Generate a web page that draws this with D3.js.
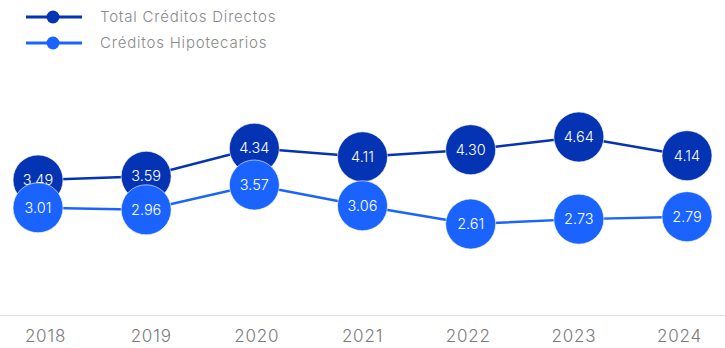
<!DOCTYPE html>
<html>
<head>
<meta charset="utf-8">
<script src="https://cdn.jsdelivr.net/npm/d3@7"></script>
<style>
  html, body { margin: 0; padding: 0; background: #fff; }
  svg { display: block; font-family: Inter, "Noto Sans", sans-serif; font-weight: 300; }
</style>
</head>
<body>
<svg id="chart" width="725" height="348"></svg>
<script>
const years = ["2018", "2019", "2020", "2021", "2022", "2023", "2024"];
const totalDirectos = [3.49, 3.59, 4.34, 4.11, 4.30, 4.64, 4.14];
const hipotecarios = [3.01, 2.96, 3.57, 3.06, 2.61, 2.73, 2.79];
const seriesNames = ["Total Créditos Directos", "Créditos Hipotecarios"];

const colors = ["#0434b4", "#1a63ff"];

const svg = d3.select("#chart");

// Marker positions and axis label positions
const xPoint = d3.scalePoint().domain(years).range([38, 687]);
const xAxisScale = d3.scalePoint().domain(years).range([45, 679]);

// Each series sits in its own vertical band
const yTotal = d3.scaleLinear().domain([3.49, 4.64]).range([180, 137]);
const yHipo = d3.scaleLinear().domain([2.61, 3.57]).range([224, 185]);

const series = [
  { name: seriesNames[0], values: totalDirectos, y: yTotal, color: colors[0] },
  { name: seriesNames[1], values: hipotecarios, y: yHipo, color: colors[1] }
];

// Baseline
svg.append("line")
  .attr("x1", 0).attr("x2", 725)
  .attr("y1", 315.5).attr("y2", 315.5)
  .attr("stroke", "#dedede").attr("stroke-width", 1.2);

// X axis labels
const xAxis = d3.axisBottom(xAxisScale).tickSize(0).tickPadding(0);
const gx = svg.append("g").attr("transform", "translate(0,330)").call(xAxis);
gx.select(".domain").remove();
gx.selectAll("text")
  .attr("font-size", 17)
  .attr("fill", "#7a7a7a")
  .attr("dy", "0.35em")
  .attr("y", 6)
  .attr("letter-spacing", 0.8)
  .style("font-family", "Inter, 'Noto Sans', sans-serif")
  .style("font-weight", 300);

// Lines first, then circles (hipotecarios drawn over total)
series.forEach(s => {
  const line = d3.line()
    .x((d, i) => xPoint(years[i]))
    .y(d => s.y(d));
  svg.append("path")
    .datum(s.values)
    .attr("d", line)
    .attr("fill", "none")
    .attr("stroke", s.color)
    .attr("stroke-width", 2.5);
});

series.forEach(s => {
  const g = svg.append("g");
  const pts = g.selectAll("g.pt")
    .data(s.values)
    .join("g")
    .attr("class", "pt")
    .attr("transform", (d, i) => `translate(${xPoint(years[i])},${s.y(d)})`);
  pts.append("circle")
    .attr("r", 25)
    .attr("fill", s.color)
    .attr("stroke", "#ffffff")
    .attr("stroke-opacity", 0.6)
    .attr("stroke-width", 1);
  pts.append("text")
    .attr("text-anchor", "middle")
    .attr("dy", "0.36em")
    .attr("fill", "#ffffff")
    .attr("font-size", 14.5)
    .text(d => d3.format(".2f")(d));
});

// Legend
const legend = svg.append("g");
series.forEach((s, i) => {
  const y = 17 + i * 26;
  const lg = legend.append("g").attr("transform", `translate(0,${y})`);
  lg.append("line")
    .attr("x1", 26).attr("x2", 82)
    .attr("stroke", s.color).attr("stroke-width", 3);
  lg.append("circle")
    .attr("cx", 53).attr("r", 6.5)
    .attr("fill", s.color);
  lg.append("text")
    .attr("x", 100)
    .attr("dy", "0.36em")
    .attr("font-size", 15)
    .attr("letter-spacing", 0.8)
    .attr("fill", "#8a8a8a")
    .text(s.name);
});
</script>
</body>
</html>
